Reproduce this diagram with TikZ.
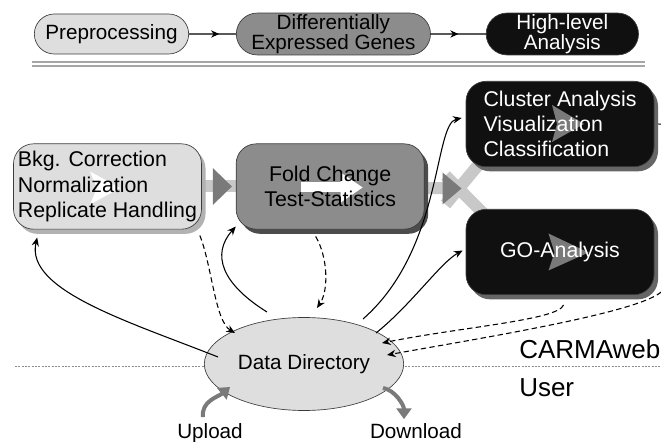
\documentclass[tikz,border=0pt]{standalone}
\usepackage{fontspec}
\setmainfont{Liberation Sans}
\usetikzlibrary{arrows.meta, positioning, shapes.geometric, shapes.misc, shadows, calc, backgrounds, decorations.markings}
\definecolor{boxlight}{RGB}{222,222,222}
\definecolor{boxmid}{RGB}{140,140,140}
\definecolor{boxdark}{RGB}{16,16,16}
\definecolor{flowlight}{RGB}{200,200,200}
\definecolor{flowdark}{RGB}{122,122,122}
\definecolor{linegray}{RGB}{60,60,60}
\tikzset{
  phasebox/.style={draw=linegray, rounded rectangle, minimum height=30pt, align=center,
      font=\fontsize{15.5}{15}\selectfont, fill=#1, line width=0.5pt, inner sep=1pt},
  stagebox/.style 2 args={draw=linegray, rounded corners=15pt, minimum width=141pt, minimum height=64pt,
      align=left, font=\fontsize{16}{19}\selectfont, fill=#1, line width=0.5pt,
      drop shadow={shadow xshift=3pt, shadow yshift=-3.5pt, fill=#2, opacity=1}},
  phasearrow/.style={line width=0.8pt, postaction={decorate},
      decoration={markings, mark=at position #1 with {\arrow{Stealth[length=6pt, width=5.5pt]}}}},
  flowbar/.style={line width=9pt, flowlight},
  datalink/.style={-{Stealth[length=6.5pt, width=5.5pt]}, line width=0.8pt},
  resultlink/.style={datalink, dash pattern=on 4pt off 2.5pt},
  userlink/.style={-{Triangle[length=8pt, width=11pt]}, line width=3pt, flowdark},
  sidelbl/.style={inner sep=0pt, font=\fontsize{19.5}{19.5}\selectfont, anchor=west},
  iolbl/.style={inner sep=0pt, font=\fontsize{15.5}{15.5}\selectfont},
}

\begin{document}
\begin{tikzpicture}[x=0.75pt, y=0.75pt, node distance=25.5pt]
  \useasboundingbox (0,0) rectangle (661,-442);

  % === phases (top row) ===
  \node[phasebox=boxlight, minimum width=117.75pt] (prep) at (111.5,-34) {Preprocessing};
  \node[phasebox=boxmid, minimum width=142.5pt, right=35.25pt of prep] (deg) {Differentially\\Expressed Genes};
  \node[phasebox=boxdark, text=white, minimum width=116.25pt, right=41.25pt of deg] (hla) {High-level\\Analysis};

  \draw[phasearrow=0.64] (prep) -- (deg);
  \draw[phasearrow=0.5] (deg) -- (hla);

  \draw[black!35, line width=0.9pt] (32,-62) -- (645,-62);
  \draw[black!35, line width=0.9pt] (32,-66) -- (645,-66);

  % CARMAweb / User border
  \draw[black!45, dash pattern=on 1.5pt off 1pt, line width=0.5pt] (15,-366) -- (661,-366);

  % === stages ===
  \node[stagebox={boxlight}{black!30},
      path picture={\fill[white, sharp corners] ($(path picture bounding box.center)+(-17.5,15)$) -- ++(30,-16.5) -- ++(-30,-16.5) -- ++(7,16.5) -- cycle;}]
      (bkg) at (107.5,-186.5) {Bkg. Correction\\Normalization\\Replicate Handling};
  \node[stagebox={boxmid}{black!70}, align=center, right=of bkg,
      path picture={\fill[white, sharp corners] ($(path picture bounding box.center)+(-29.5,4)$) rectangle ++(42,-10);
                    \fill[white, sharp corners] ($(path picture bounding box.center)+(10.5,14)$) -- ++(22,-15) -- ++(-22,-15) -- cycle;}]
      (fold) {Fold Change\\Test-Statistics};
  \node[stagebox={boxdark}{black!60}, text=white,
      path picture={\fill[flowdark, sharp corners] ($(path picture bounding box.center)+(-8,19)$) -- ++(32,-19) -- ++(-32,-18) -- ++(5,18) -- cycle;}]
      (cluster) at (560,-124) {Cluster Analysis\\Visualization\\Classification};
  \node[stagebox={boxdark}{black!60}, text=white, align=center, below=31.5pt of cluster,
      path picture={\fill[flowdark, sharp corners] ($(path picture bounding box.center)+(-11.5,18.5)$) -- ++(40,-19) -- ++(-40,-18) -- ++(6,18) -- cycle;}]
      (go) {GO-Analysis};

  \node[ellipse, draw=linegray, fill=boxlight, line width=0.5pt, minimum width=117pt, minimum height=69.75pt,
      font=\fontsize{15.5}{15.5}\selectfont] (dd) at (304,-364) {Data Directory};

  \node[sidelbl] (carma) at (519,-349) {CARMAweb};
  \node[sidelbl] (user) at (519,-388) {User};
  \node[iolbl] (upload) at (210,-433) {Upload};
  \node[iolbl] (download) at (416,-431) {Download};

  % flow through the stages
  \begin{scope}[on background layer]
    \coordinate (fork) at ($(fold.east)+(34,-2)$);
    \draw[flowbar] (bkg.center) -- (fold.center);
    \draw[flowbar] (fold.center) -- (fork);
    \draw[flowbar] ($(fork)+(-13,-16)$) -- ($(fork)+(26,31)$);
    \draw[flowbar] ($(fork)+(-13,13)$) -- ($(fork)+(26,-26)$);
    \fill[flowdark] ($(bkg.east)+(11,18.5)$) -- ++(19,-18.5) -- ++(-19,-18.5) -- cycle;
    \fill[flowdark] ($(fold.east)+(18,14)$) -- ++(19,-16) -- ++(-19,-16) -- cycle;
  \end{scope}

  % data directory -> stages
  \draw[datalink] ($(dd)+(-86,7)$) .. controls +(-88,35) and +(-12,-53) .. ($(bkg.south west)+(24,-8)$);
  \draw[datalink] ($(dd)+(-37,52)$) .. controls +(-45,28) and +(-25,-28) .. ($(fold.south west)+(0,3)$);
  \draw[datalink] ($(dd)+(59,45)$) .. controls +(80,70) and +(-28,-6) .. ($(cluster.west)+(-4,6)$);
  \draw[datalink] ($(dd)+(72,31)$) .. controls +(35,28) and +(-22,-12) .. ($(go.west)+(-3,1.5)$);

  % stages -> data directory
  \draw[resultlink] ($(bkg.south east)+(-2,-6)$) .. controls +(12,-30) and +(-20,12) .. ($(dd)+(-69,31)$);
  \draw[resultlink] ($(fold.south)+(-14.5,-7)$) .. controls +(12,-20) and +(12,18) .. ($(dd)+(13,56)$);
  \draw[resultlink] ($(go.south)+(3.5,-10)$) .. controls +(-5,-15) and +(80,16) .. ($(dd)+(78,21)$);
  \coordinate (rim) at ($(cluster.east)+(10,-164)$);
  \draw[resultlink] ($(cluster.east)+(4,0)$) .. controls +(40,0) and +(10,80) .. (rim)
      .. controls +(-8,-22) and +(100,18) .. ($(dd)+(83,9)$);

  % user side
  \draw[userlink] ($(upload.north)+(-7,6)$) .. controls +(-2,16) and +(-12,-10) .. ($(dd)+(-74,-23)$);
  \draw[userlink] ($(dd)+(79,-24)$) .. controls +(12,-2) and +(0,14) .. ($(download.north)+(-12,4)$);
\end{tikzpicture}
\end{document}
